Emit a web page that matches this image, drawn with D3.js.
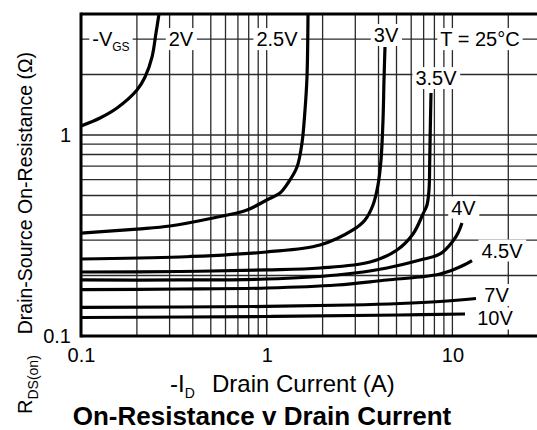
<!DOCTYPE html>
<html><head><meta charset="utf-8">
<script src="https://cdn.jsdelivr.net/npm/d3@7"></script>
<style>
body{margin:0;background:#fff}
svg{display:block}
text{font-family:"Liberation Sans",Arial,Helvetica,sans-serif;fill:#000}
</style>
</head><body>
<svg id="chart" width="537" height="430"></svg>
<script>
// ---- data ----
const seriesNames = ["2V","2.5V","3V","3.5V","4V","4.5V","7V","10V"];

const id_2V  = [0.1, 0.1266, 0.1563, 0.2002, 0.2212, 0.2412, 0.2534, 0.263];
const r_2V   = [1.109, 1.215, 1.362, 1.674, 1.944, 2.443, 3.217, 4.0];

const id_2V5 = [0.1, 0.2, 0.3015, 0.5139, 0.7833, 1.0, 1.179, 1.302, 1.456, 1.549, 1.608, 1.648, 1.669];
const r_2V5  = [0.325, 0.3405, 0.3526, 0.3865, 0.4236, 0.4749, 0.5146, 0.5771, 0.6931, 0.9125, 1.331, 1.944, 4.0];

const id_3V  = [0.1, 0.341, 1.0, 1.936, 2.915, 3.383, 3.736, 3.975, 4.126, 4.23, 4.282, 4.335];
const r_3V   = [0.2416, 0.2472, 0.2618, 0.2836, 0.3369, 0.3777, 0.4484, 0.564, 0.751, 1.187, 1.877, 2.741];

const id_3V5 = [0.1, 0.341, 1.0, 1.936, 3.6, 5.031, 6.135, 6.944, 7.298, 7.482, 7.55, 7.6, 7.67];
const r_3V5  = [0.2082, 0.2094, 0.2131, 0.218, 0.2334, 0.2679, 0.3218, 0.4046, 0.4484, 0.5327, 0.751, 1.059, 1.618];

const id_4V  = [0.1, 0.341, 1.0, 2.391, 4.444, 6.691, 8.576, 10.07, 10.72, 11.26];
const r_4V   = [0.19, 0.19, 0.1921, 0.2012, 0.218, 0.2388, 0.2559, 0.297, 0.3254, 0.3649];

const id_4V5 = [0.1, 0.341, 1.0, 2.391, 4.444, 6.691, 8.576, 10.33, 11.69, 12.75];
const r_4V5  = [0.1703, 0.1713, 0.1733, 0.1794, 0.19, 0.1966, 0.2035, 0.2154, 0.2268, 0.2374];

const id_7V  = [0.1, 1.0, 2.809, 5.223, 8.576, 13.4];
const r_7V   = [0.1387, 0.1403, 0.1426, 0.1451, 0.1485, 0.1537];

const id_10V = [0.1, 1.0, 5.223, 11.69];
const r_10V  = [0.1236, 0.125, 0.1272, 0.1287];

const xTickValues = [0.1, 1, 10];
const xTickLabels = ["0.1", "1", "10"];
const yTickValues = [0.1, 1];
const yTickLabels = ["0.1", "1"];
const xGridValues = [0.2,0.3,0.4,0.5,0.6,0.7,0.8,0.9,1,2,3,4,5,6,7,8,9,10,20];
const yGridValues = [0.2,0.3,0.4,0.5,0.6,0.7,0.8,0.9,1,2,3];

// in-plot annotations (anchor in data units)
const noteText = ["2V","2.5V","3V","T = 25°C","3.5V","4V","4.5V","7V","10V"];
const noteX    = [0.3455, 1.136, 4.39, 14.08, 8.16, 11.47, 18.5, 17.28, 16.96];
const noteY    = [3, 3, 3.145, 3, 1.92, 0.4358, 0.2663, 0.1599, 0.1222];

// ---- layout ----
const svg = d3.select("#chart");
const L = 81, T = 14, B = 336, R = 537;
const x = d3.scaleLog().domain([0.1, 30]).range([L, L + 185.7 * Math.log10(300)]);
const y = d3.scaleLog().domain([0.1, 4]).range([B, T]);

svg.append("defs").append("clipPath").attr("id","clip")
  .append("rect").attr("x",L).attr("y",T).attr("width",R-L).attr("height",B-T);

const plot = svg.append("g").attr("clip-path","url(#clip)");

// grid
plot.append("g").selectAll("line").data(xGridValues).join("line")
  .attr("x1",d=>x(d)).attr("x2",d=>x(d)).attr("y1",T).attr("y2",B)
  .attr("stroke","#2a2a2a").attr("stroke-width",1.3);
plot.append("g").selectAll("line").data(yGridValues).join("line")
  .attr("y1",d=>y(d)).attr("y2",d=>y(d)).attr("x1",L).attr("x2",R)
  .attr("stroke","#2a2a2a").attr("stroke-width",1.3);

// curves
const series = [
  [id_2V, r_2V],[id_2V5, r_2V5],[id_3V, r_3V],[id_3V5, r_3V5],
  [id_4V, r_4V],[id_4V5, r_4V5],[id_7V, r_7V],[id_10V, r_10V]
].map(([xs, ys]) => xs.map((v,i)=>[v, ys[i]]));

const line = d3.line().x(d=>x(d[0])).y(d=>y(d[1])).curve(d3.curveCatmullRom.alpha(0.5));
plot.append("g").selectAll("path").data(series).join("path")
  .attr("d", line).attr("fill","none").attr("stroke","#000")
  .attr("stroke-width",3.2).attr("stroke-linecap","butt");

// annotations with white boxes
const notes = svg.append("g");
function boxed(g){
  const bb = g.select("text").node().getBBox();
  g.insert("rect","text").attr("x",bb.x-3).attr("y",bb.y).attr("width",bb.width+6)
    .attr("height",bb.height).attr("fill","#fff");
}
noteText.forEach((t,i)=>{
  const g = notes.append("g");
  g.append("text").attr("x",x(noteX[i])).attr("y",y(noteY[i])+7)
    .attr("text-anchor","middle").attr("font-size",20).text(t);
  boxed(g);
});
{
  const g = notes.append("g");
  const tx = g.append("text").attr("x",x(0.145)).attr("y",y(3)+7)
    .attr("text-anchor","middle").attr("font-size",20);
  tx.append("tspan").text("-V");
  tx.append("tspan").attr("font-size",12).attr("dy",5).text("GS");
  boxed(g);
}

// frame
const frame = svg.append("g").attr("stroke","#000").attr("stroke-width",3).attr("fill","none");
frame.append("line").attr("x1",L).attr("x2",R).attr("y1",T).attr("y2",T);
frame.append("line").attr("x1",L).attr("x2",R).attr("y1",B).attr("y2",B);
frame.append("line").attr("x1",L).attr("x2",L).attr("y1",T-1.5).attr("y2",B+1.5);

// axes (labels only)
const xa = svg.append("g").attr("transform",`translate(0,${B})`)
  .call(d3.axisBottom(x).tickValues(xTickValues).tickFormat((d,i)=>xTickLabels[i]).tickSize(0).tickPadding(12));
xa.select(".domain").remove();
xa.selectAll("text").attr("font-size",20).attr("font-family",null);
const ya = svg.append("g").attr("transform",`translate(${L},0)`)
  .call(d3.axisLeft(y).tickValues(yTickValues).tickFormat((d,i)=>yTickLabels[i]).tickSize(0).tickPadding(10));
ya.select(".domain").remove();
ya.selectAll("text").attr("font-size",20).attr("font-family",null);

// x title
const xt = svg.append("text").attr("x",170).attr("y",392).attr("font-size",24);
xt.append("tspan").text("-I");
xt.append("tspan").attr("font-size",14).attr("dy",6).text("D");
svg.append("text").attr("x",212).attr("y",392).attr("font-size",24).text("Drain Current (A)");

// y title
svg.append("text").attr("transform","translate(32,52) rotate(-90)")
  .attr("text-anchor","end").attr("font-size",19.5).text("Drain-Source On-Resistance (Ω)");
const yr = svg.append("text").attr("transform","translate(32,414) rotate(-90)")
  .attr("text-anchor","start").attr("font-size",20);
yr.append("tspan").text("R");
yr.append("tspan").attr("font-size",14).attr("dy",6).text("DS(on)");

// main title
svg.append("text").attr("x",262).attr("y",425).attr("text-anchor","middle")
  .attr("font-size",26).attr("font-weight","bold").text("On-Resistance v Drain Current");
</script>
</body></html>
